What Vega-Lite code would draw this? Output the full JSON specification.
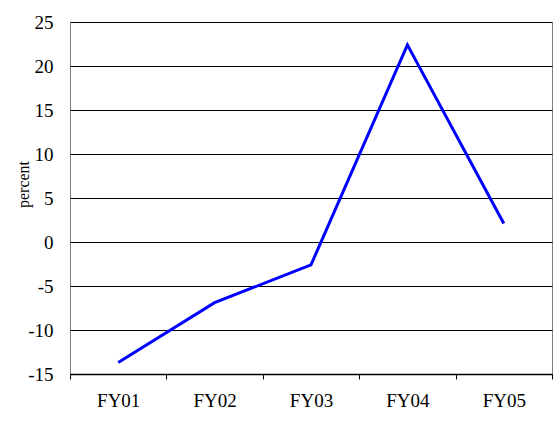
{
  "$schema": "https://vega.github.io/schema/vega-lite/v6.json",
  "autosize": {"type": "none"},
  "padding": {"left": 70, "top": 22, "right": 8, "bottom": 56},
  "width": 482,
  "height": 352,
  "background": "white",
  "config": {
    "view": {"stroke": "#808080", "strokeWidth": 1},
    "font": "'Liberation Serif', 'Times New Roman', serif",
    "axis": {"labelFont": "'Liberation Serif', 'Times New Roman', serif", "titleFont": "'Liberation Serif', 'Times New Roman', serif"}
  },
  "data": {
    "values": [
      {"year": "FY01", "percent": -13.7},
      {"year": "FY02", "percent": -6.9},
      {"year": "FY03", "percent": -2.6},
      {"year": "FY04", "percent": 22.4},
      {"year": "FY05", "percent": 2.1}
    ]
  },
  "mark": {"type": "line", "color": "#0000FF", "strokeWidth": 3},
  "encoding": {
    "x": {
      "field": "year",
      "type": "nominal",
      "bandPosition": 0.5,
      "scale": {"type": "band", "paddingInner": 0, "paddingOuter": 0},
      "axis": {
        "title": null,
        "labelAngle": 0,
        "tickBand": "extent",
        "domainColor": "black",
        "domainWidth": 1.5,
        "tickColor": "black",
        "tickSize": 5,
        "labelPadding": 12,
        "labelFontSize": 19,
        "labelColor": "black",
        "grid": false
      }
    },
    "y": {
      "field": "percent",
      "type": "quantitative",
      "scale": {"domain": [-15, 25], "nice": false, "zero": false},
      "axis": {
        "title": "percent",
        "titleFontSize": 16,
        "titleFontWeight": "normal",
        "titleColor": "black",
        "titleAngle": -90,
        "titleX": -42,
        "titleY": 162,
        "titleAlign": "center",
        "titleBaseline": "alphabetic",
        "values": [-15, -10, -5, 0, 5, 10, 15, 20, 25],
        "labelExpr": "toString(datum.value)",
        "ticks": false,
        "domain": false,
        "labelPadding": 17,
        "labelFontSize": 19,
        "labelColor": "black",
        "grid": true,
        "gridColor": "black",
        "gridWidth": 1,
        "gridOpacity": 1
      }
    }
  }
}
